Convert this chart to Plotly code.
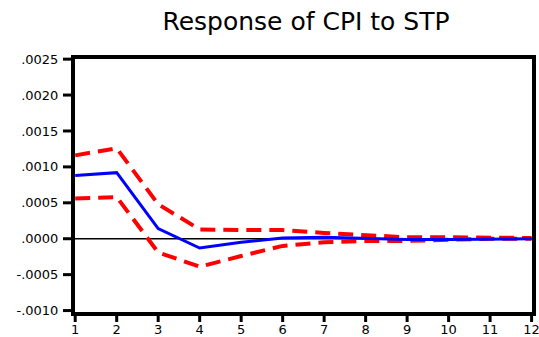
import plotly.graph_objects as go

periods = list(range(1, 13))
response = [0.00088, 0.00092, 0.00014, -0.00013, -0.00005, 0.00001, 0.00002, 0.00000, -0.00001, -0.00001, 0.00000, 0.00000]
upper = [0.00116, 0.00126, 0.00048, 0.00013, 0.00012, 0.00012, 0.00008, 0.00005, 0.00002, 0.00002, 0.00001, 0.00001]
lower = [0.00056, 0.00058, -0.00019, -0.00039, -0.00024, -0.00010, -0.00005, -0.00003, -0.00003, -0.00001, 0.00000, 0.00000]
ytick_vals = [-0.0010, -0.0005, 0.0, 0.0005, 0.0010, 0.0015, 0.0020, 0.0025]
ytick_text = ["-.0010", "-.0005", ".0000", ".0005", ".0010", ".0015", ".0020", ".0025"]

W, H = 539, 337
M = dict(l=75, r=7, t=59, b=25)
x_range = [0.995, 12.01]
y_range = [-0.00102, 0.002502]
plot_w = W - M["l"] - M["r"]
plot_h = H - M["t"] - M["b"]

fig = go.Figure()
fig.add_trace(go.Scatter(x=[0.5, 12.5], y=[0, 0], mode="lines",
                         line=dict(color="black", width=1.5), hoverinfo="skip"))
fig.add_trace(go.Scatter(x=periods, y=upper, mode="lines",
                         line=dict(color="#ff0000", width=4, dash="15px,8px")))
fig.add_trace(go.Scatter(x=periods, y=lower, mode="lines",
                         line=dict(color="#ff0000", width=4, dash="15px,8px")))
fig.add_trace(go.Scatter(x=periods, y=response, mode="lines",
                         line=dict(color="#0000ff", width=3)))

# outside tick marks as paper-referenced shapes placed at the axis tick values
for p in periods:
    fx = (p - x_range[0]) / (x_range[1] - x_range[0])
    fig.add_shape(type="line", xref="paper", yref="paper",
                  x0=fx, x1=fx, y0=-4 / plot_h, y1=-10 / plot_h,
                  line=dict(color="black", width=3))
for v in ytick_vals:
    fy = (v - y_range[0]) / (y_range[1] - y_range[0])
    fig.add_shape(type="line", xref="paper", yref="paper",
                  y0=fy, y1=fy, x0=-4 / plot_w, x1=-12 / plot_w,
                  line=dict(color="black", width=3))

fig.update_layout(
    width=W, height=H,
    margin=M,
    paper_bgcolor="white", plot_bgcolor="white",
    showlegend=False,
    template="none",
    title=dict(text="Response of CPI to STP", x=306 / W, xanchor="center", y=1 - 21 / H, yanchor="middle",
               font=dict(family="DejaVu Sans", size=25, color="black")),
    font=dict(family="DejaVu Sans", size=13, color="black"),
)
fig.update_xaxes(range=x_range, tickmode="array", tickvals=periods, ticks="outside",
                 ticklen=2, tickwidth=3, tickcolor="rgba(0,0,0,0)", ticklabeloverflow="allow",
                 showline=True, linewidth=4, linecolor="black", mirror=True,
                 showgrid=False, zeroline=False, tickfont=dict(size=13))
fig.update_yaxes(range=y_range, tickmode="array", tickvals=ytick_vals, ticktext=ytick_text,
                 ticks="outside", ticklen=10, tickwidth=3, tickcolor="rgba(0,0,0,0)",
                 showline=True, linewidth=4, linecolor="black", mirror=True,
                 showgrid=False, zeroline=False, tickfont=dict(size=13))

fig.write_html("out.html", config={"displayModeBar": False},
               post_script="document.body.style.margin='0';")
